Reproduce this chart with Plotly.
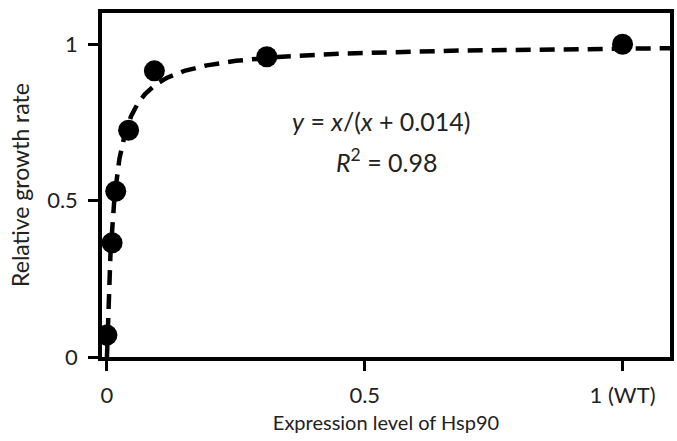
import numpy as np
import plotly.graph_objects as go

# Data
expr_level = [0.0, 0.010, 0.017, 0.042, 0.092, 0.31, 1.0]
growth_rate = [0.07, 0.365, 0.53, 0.725, 0.915, 0.96, 1.0]
fit_K = 0.014  # fitted parameter: y = x/(x + K)

x_tickvals = [0, 0.5, 1]
x_ticktext = ["0", "0.5", "1 (WT)"]
y_tickvals = [0, 0.5, 1]
y_ticktext = ["0", "0.5", "1"]

# Fit curve from the stated model
xf = np.concatenate([np.linspace(0, 0.1, 300), np.linspace(0.1, 1.1, 300)[1:]])
yf = xf / (xf + fit_K)

font_family = "Lato, Open Sans, DejaVu Sans, sans-serif"
txt_col = "#222222"

fig = go.Figure()
fig.add_trace(go.Scatter(x=xf, y=yf, mode="lines",
                         line=dict(color="black", width=4.5, dash="15px,9px"),
                         hoverinfo="skip", showlegend=False))
fig.add_trace(go.Scatter(x=expr_level, y=growth_rate, mode="markers",
                         marker=dict(color="black", size=21),
                         showlegend=False))

fig.add_annotation(x=0.532, y=0.755, xref="x", yref="y",
                   text="<i>y</i> = <i>x</i>/(<i>x</i> + 0.014)",
                   showarrow=False, font=dict(size=25, color=txt_col, family=font_family))
fig.add_annotation(x=0.543, y=0.628, xref="x", yref="y",
                   text="<i>R</i><sup>2</sup> = 0.98",
                   showarrow=False, font=dict(size=25, color=txt_col, family=font_family))

fig.update_layout(
    width=677, height=441,
    margin=dict(l=102, r=3, t=13, b=84),
    plot_bgcolor="white", paper_bgcolor="white",
    font=dict(family=font_family, size=22, color=txt_col),
)
fig.update_xaxes(range=[-0.0096, 1.092], showline=True, linewidth=3.5, linecolor="black",
                 mirror=True, showgrid=False, zeroline=False,
                 ticks="outside", ticklen=10, tickwidth=3, tickcolor="black",
                 ticklabelstandoff=6,
                 tickvals=x_tickvals, ticktext=x_ticktext,
                 title=dict(text="Expression level of Hsp90", standoff=10,
                            font=dict(size=20, color=txt_col)))
fig.update_yaxes(range=[0, 1.1], showline=True, linewidth=3.5, linecolor="black",
                 mirror=True, showgrid=False, zeroline=False,
                 ticks="outside", ticklen=10, tickwidth=3, tickcolor="black",
                 ticklabelstandoff=6,
                 tickvals=y_tickvals, ticktext=y_ticktext,
                 title=dict(text="Relative growth rate", standoff=12,
                            font=dict(size=23, color=txt_col)))

fig.write_html("out.html")
